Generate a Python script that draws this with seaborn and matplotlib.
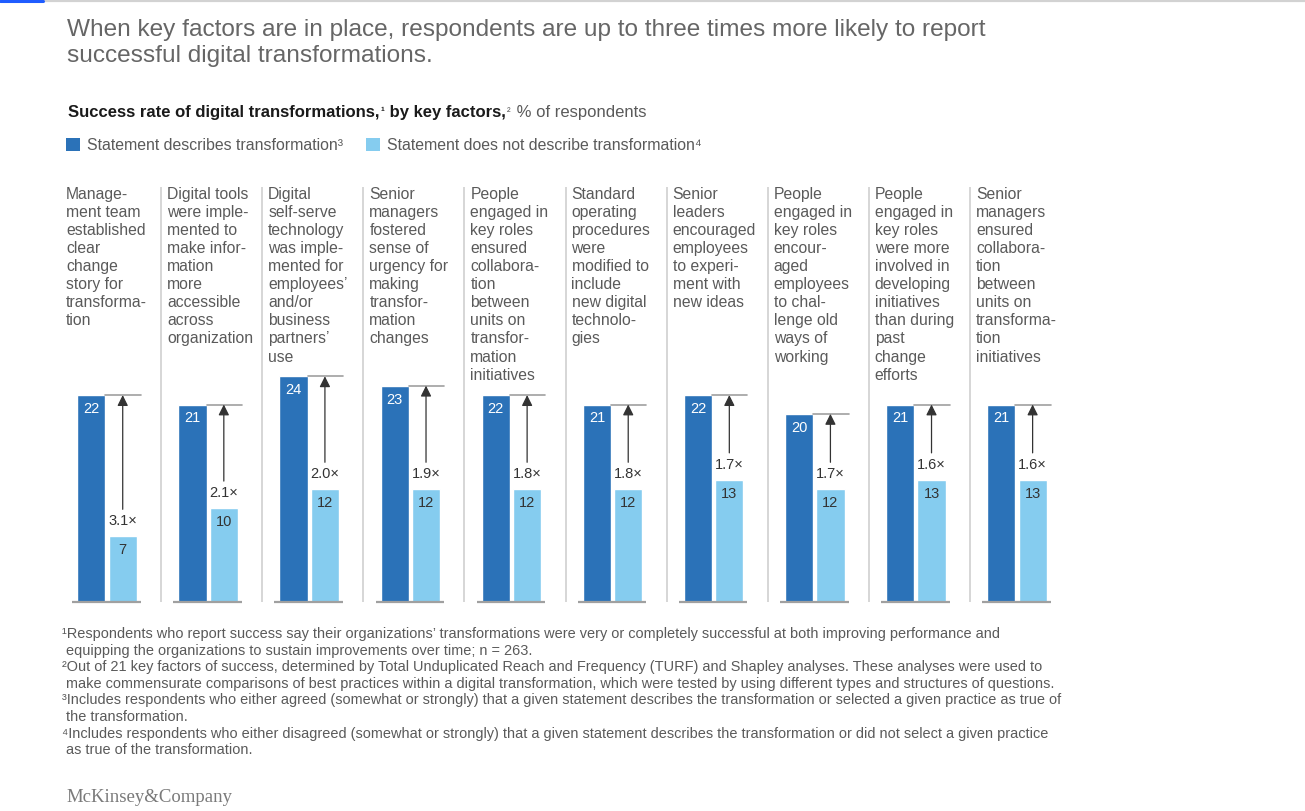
import pandas as pd
import matplotlib.pyplot as plt
import seaborn as sns
from matplotlib.patches import Rectangle
from matplotlib.lines import Line2D

# ---- data ----
factors = [
    "Manage-\nment team\nestablished\nclear\nchange\nstory for\ntransforma-\ntion",
    "Digital tools\nwere imple-\nmented to\nmake infor-\nmation\nmore\naccessible\nacross\norganization",
    "Digital\nself-serve\ntechnology\nwas imple-\nmented for\nemployees’\nand/or\nbusiness\npartners’\nuse",
    "Senior\nmanagers\nfostered\nsense of\nurgency for\nmaking\ntransfor-\nmation\nchanges",
    "People\nengaged in\nkey roles\nensured\ncollabora-\ntion\nbetween\nunits on\ntransfor-\nmation\ninitiatives",
    "Standard\noperating\nprocedures\nwere\nmodified to\ninclude\nnew digital\ntechnolo-\ngies",
    "Senior\nleaders\nencouraged\nemployees\nto experi-\nment with\nnew ideas",
    "People\nengaged in\nkey roles\nencour-\naged\nemployees\nto chal-\nlenge old\nways of\nworking",
    "People\nengaged in\nkey roles\nwere more\ninvolved in\ndeveloping\ninitiatives\nthan during\npast\nchange\nefforts",
    "Senior\nmanagers\nensured\ncollabora-\ntion\nbetween\nunits on\ntransforma-\ntion\ninitiatives",
]
describes = [22, 21, 24, 23, 22, 21, 22, 20, 21, 21]
not_describes = [7, 10, 12, 12, 12, 12, 13, 12, 13, 13]
multipliers = ["3.1×", "2.1×", "2.0×", "1.9×", "1.8×", "1.8×", "1.7×", "1.7×", "1.6×", "1.6×"]
groups = ["Statement describes transformation", "Statement does not describe transformation"]
legend_labels = ["Statement describes transformation³", "Statement does not describe transformation⁴"]

title_lines = ["When key factors are in place, respondents are up to three times more likely to report",
               "successful digital transformations."]
footnotes = [
    "¹Respondents who report success say their organizations’ transformations were very or completely successful at both improving performance and",
    " equipping the organizations to sustain improvements over time; n = 263.",
    "²Out of 21 key factors of success, determined by Total Unduplicated Reach and Frequency (TURF) and Shapley analyses. These analyses were used to",
    " make commensurate comparisons of best practices within a digital transformation, which were tested by using different types and structures of questions.",
    "³Includes respondents who either agreed (somewhat or strongly) that a given statement describes the transformation or selected a given practice as true of",
    " the transformation.",
    "⁴Includes respondents who either disagreed (somewhat or strongly) that a given statement describes the transformation or did not select a given practice",
    " as true of the transformation.",
]

DARK = "#2B72B8"
LIGHT = "#85CCEF"
GRAY_TXT = "#5a5a5a"

sns.set_style("white")
plt.rcParams["font.family"] = ["Liberation Sans", "DejaVu Sans"]

W, H = 1305, 811
fig = plt.figure(figsize=(W / 100, H / 100), dpi=100)


def fx(px):
    return px / W


def fy(py):
    return 1 - py / H


# chart area: baseline at y=602 px, top at 187 px; bars sit a bit left of panel centre
PANEL_PX = 101.1
SHIFT = 3.5 / PANEL_PX
ax = fig.add_axes([fx(56.5), fy(602), fx(56.5 + 10 * PANEL_PX) - fx(56.5), fy(187) - fy(602)])

df = pd.DataFrame({
    "factor": list(range(len(factors))) * 2,
    "group": [groups[0]] * len(factors) + [groups[1]] * len(factors),
    "value": describes + not_describes,
})
sns.barplot(data=df, x="factor", y="value", hue="group", palette=[DARK, LIGHT],
            width=0.62, gap=0.1, saturation=1, legend=False, ax=ax)

ax.set_xlim(-0.5, len(factors) - 0.5)
ax.set_ylim(0, 417 / 9.45)
ax.set_xlabel("")
ax.set_ylabel("")
ax.set_xticks([])
ax.set_yticks([])
sns.despine(ax=ax, left=True, bottom=True)

dark_bars = ax.containers[0]
light_bars = ax.containers[1]
px_unit = 1 / 9.45       # one pixel in data units (y)
px_x = 1 / PANEL_PX      # one pixel in data units (x)

for i, (db, lb) in enumerate(zip(dark_bars, light_bars)):
    d_x, d_w, d_h = db.get_x(), db.get_width(), db.get_height()
    l_x, l_w, l_h = lb.get_x(), lb.get_width(), lb.get_height()
    l_c = l_x + l_w / 2

    # baseline under the pair
    ax.plot([d_x - 5 * px_x, l_x + l_w + 4 * px_x], [0, 0], color="#a0a0a0", lw=1.6,
            solid_capstyle="butt", zorder=3, clip_on=False)
    # reference line at the dark bar's height
    ax.plot([d_x + d_w, l_x + l_w + 4 * px_x], [d_h, d_h], color="#a0a0a0", lw=1.2, zorder=3)
    # value labels
    ax.text(d_x + d_w / 2, d_h - 14 * px_unit, str(describes[i]), color="white",
            ha="center", va="center", fontsize=10.5)
    ax.text(l_c, l_h - 14 * px_unit, str(not_describes[i]), color="#333333",
            ha="center", va="center", fontsize=10.5)
    # multiplier label and arrow
    ax.text(l_c, l_h + 15 * px_unit, multipliers[i], color="#333333",
            ha="center", va="center", fontsize=10.5)
    ax.annotate("", xy=(l_c, d_h), xytext=(l_c, l_h + 27 * px_unit),
                arrowprops=dict(arrowstyle="-|>", color="#333333", lw=0.9,
                                mutation_scale=16, shrinkA=0, shrinkB=0))
    # factor description
    ax.text(i - 0.5 + SHIFT + 6 * px_x, 1.0, factors[i], transform=ax.get_xaxis_transform(),
            ha="left", va="top", fontsize=11.3, color=GRAY_TXT, linespacing=1.255)
    # panel separator
    if i < len(factors) - 1:
        ax.axvline(i + 0.5 + SHIFT, ymin=0, ymax=1, color="#d0d0d0", lw=1.2, zorder=0)

# ---- top rule ----
fig.add_artist(Line2D([0, 1], [fy(1), fy(1)], color="#d2d2d2", lw=1.6))
fig.add_artist(Line2D([0, fx(43)], [fy(1), fy(1)], color="#1f5cff", lw=2.2))

# ---- title ----
for k, line in enumerate(title_lines):
    fig.text(fx(67), fy(30 + k * 26), line, ha="left", va="center", fontsize=17.6,
             color="#666666")

# ---- subtitle, built from pieces ----
renderer = fig.canvas.get_renderer()
x_cur = fx(68)
y_sub = fy(111)
pieces = [
    ("Success rate of digital transformations,", "bold", 12.0),
    ("¹", "bold", 8),
    (" by key factors,", "bold", 12.0),
    ("²", "normal", 8),
    (" % of respondents", "normal", 12.0),
]
for txt, weight, size in pieces:
    color = "#1a1a1a" if weight == "bold" else GRAY_TXT
    t = fig.text(x_cur, y_sub, txt, ha="left", va="center_baseline", fontsize=size,
                 fontweight=weight, color=color)
    bb = t.get_window_extent(renderer=renderer)
    x_cur = fx(bb.x1 + 1)

# ---- legend ----
for sq_x, txt_x, color, label in [(66, 87, DARK, legend_labels[0]), (366, 387, LIGHT, legend_labels[1])]:
    fig.add_artist(Rectangle((fx(sq_x), fy(151)), fx(14), fy(138) - fy(151),
                             facecolor=color, edgecolor="none"))
    fig.text(fx(txt_x), fy(145), label, ha="left", va="center", fontsize=11.4, color=GRAY_TXT)

# ---- footnotes ----
for k, line in enumerate(footnotes):
    fig.text(fx(62), fy(634 + k * 16.6), line, ha="left", va="center", fontsize=10.45,
             color=GRAY_TXT)

# ---- brand ----
fig.text(fx(66), fy(797), "McKinsey&Company", ha="left", va="center", fontsize=13.5,
         color="#7a7a7a", family=["Liberation Serif", "DejaVu Serif"])

fig.savefig("out.png", dpi=100)
plt.close(fig)
